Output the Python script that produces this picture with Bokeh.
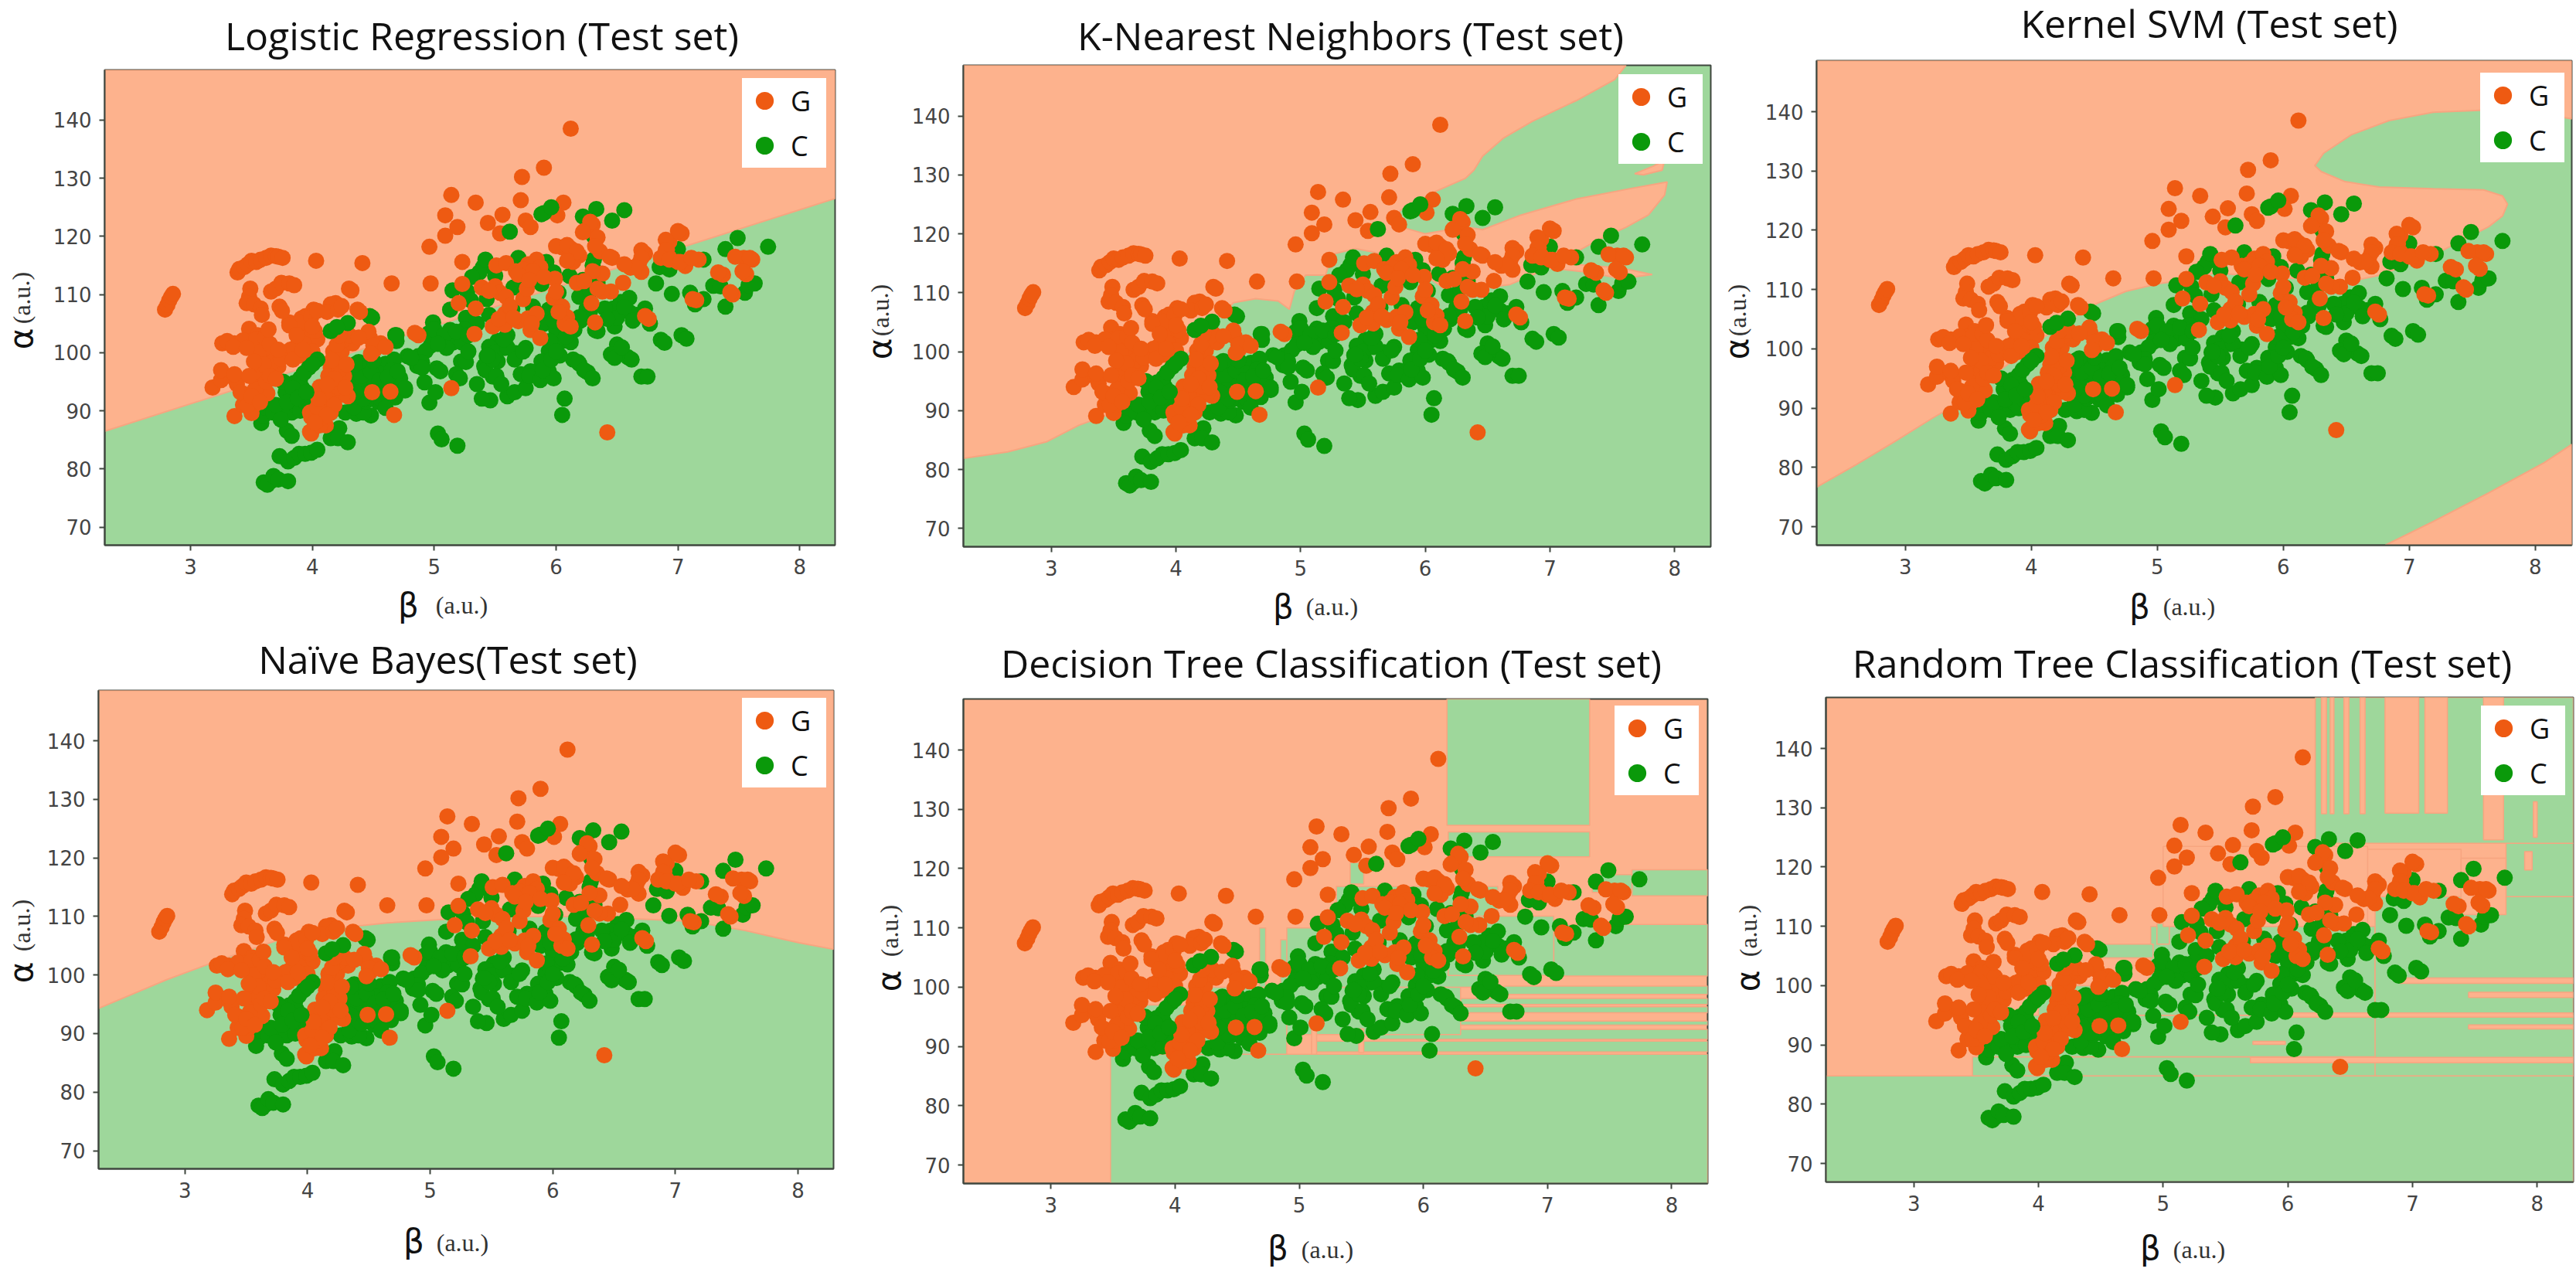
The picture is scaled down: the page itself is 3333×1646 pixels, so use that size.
from bokeh.plotting import figure
from bokeh.models import Label, Legend, LegendItem, Range1d, FixedTicker
from bokeh.embed import file_html
from bokeh.resources import INLINE

# ---- data (beta, alpha) ----
class_g = [
(2.79,107.4),(2.81,108.2),(2.825,109),(2.84,109.6),(2.855,110.1),
(3.385,113.8),(3.40,114.4),(3.44,114.7),(3.47,115.2),(3.50,115.8),(3.54,115.6),(3.575,116),(3.62,116.3),(3.66,116.7),(3.70,116.6),(3.72,116.5),(3.755,116.3),
(4.03,115.8),(4.41,115.4),(3.66,110.5),(3.70,111),(3.745,112),(3.81,111.9),(3.85,111.6),(4.30,111),
(3.49,111),(3.48,109.6),(3.46,108.5),(3.52,108.3),(3.575,107.6),(3.585,106.5),(3.73,107.9),
(4.01,107.4),(3.91,105.9),(3.81,105.2),(3.89,104.5),(3.945,106.3),(4.19,108.5),(4.15,108.3),(4.12,107),(4.21,107.4),(4.37,107.4),(4.24,108),
(3.48,104.1),(3.55,103),(3.49,102),(3.36,101.6),(3.26,101.6),(3.30,102),(3.575,101.2),(3.43,102.1),(3.35,101),
(3.18,94),(3.27,96.3),(3.25,95.3),(3.25,97),(3.36,95.6),(3.38,94.6),(3.36,96.3),(3.36,89.1),(3.43,91),(3.50,89.6),(3.45,92.8),(3.54,93.9),(3.61,94.9),(3.56,97),(3.65,97.4),(3.61,98.8),(3.70,99.1),(3.59,100.5),(3.54,102.3),(3.61,102.6),(3.79,99.5),(3.90,99.5),(3.86,100.9),(3.97,101.6),(4.04,102.3),(3.95,103.7),(3.90,105.1),(3.81,104.7),(3.99,106.2),(4.04,107.2),(3.75,107.2),
(3.55,95.5),(3.6,96.2),(3.63,93),(3.58,99.5),(3.66,100),(3.72,97.6),(3.52,91),(3.41,93.2),(3.47,91),(3.53,93.7),(3.62,95),(3.68,98.5),(3.56,100),(3.82,100.5),(3.93,101.5),(4.0,100.2),(4.02,103.7),
(3.5,92.5),(3.57,91.5),(3.6,98),(3.65,96),(3.7,95.5),(3.74,99),(3.52,98.5),(3.48,96),(3.65,101.5),(3.72,100.5),(3.84,98.8),(3.92,100.5),(4.0,104.5),(3.87,103),(3.46,100.8),(3.64,104),
(3.99,86.1),(4.11,87.5),(3.99,88.9),(4.06,90.4),(4.15,89.7),(4.11,91.8),(4.2,93.2),(4.29,92.5),(4.2,94.6),(4.26,96),(4.15,97.4),(4.2,98.8),(4.24,100.2),(4.33,101.6),(4.26,102.3),(4.47,102.6),(4.56,101.6),(4.51,100.5),(4.49,93.2),(4.64,93.3),(4.67,89.3),(4.39,107),(4.32,110.7),(4.65,111.9),(4.97,111.9),(4.87,103),(5.14,93.9),
(3.98,86.4),(3.98,89.7),(4.06,87.5),(4.08,88.8),(4.04,90.6),(4.1,92.8),(4.25,92.8),(4.06,94.1),(4.21,94.1),(4.13,96),(4.18,91),(4.05,92),(4.22,97),(4.17,100.2),(4.2,101.3),(4.3,103),(4.46,103.6),(4.5,101.2),(4.18,95.5),
(4.12,94.5),(4.27,94),(4.16,98.7),(4.28,98),(4.12,89.3),(4.02,88),(4.22,103),(4.38,102.6),(4.6,101),(4.48,99.8),
(6.12,138.5),(5.90,131.8),(5.72,130.2),(5.14,127.1),(5.34,125.8),(5.71,126.2),(6.06,125.8),(5.09,123.6),(5.19,121.6),(5.44,122.3),(5.56,123.7),(5.54,120.5),(5.75,122.7),(5.79,121.6),(6.01,123.6),(4.96,118.2),(5.09,120.1),(5.23,115.6),(7.03,120.5),(6.93,119.1),(6.23,120.9),(6.30,122),(6.34,119.8),(6.05,118.1),(6.12,117.9),(6.19,116.7),(6.14,115.6),(6.46,116.3),(6.36,117.4),
(6.73,117),(6.68,115.3),(6.61,114.6),(6.7,113.9),(6.93,116.3),(6.91,117.7),(7.0,115.6),(7.06,114.9),(7.17,116),(7.15,109),(7.37,113.4),(7.45,110),(7.54,116.3),(7.61,116),(7.56,113.5),(6.76,105.8),(6.42,86.3),
(5.51,115),(5.59,115.4),(5.67,114),(5.77,115.2),(5.84,116),(5.87,114.7),(5.73,114.3),(5.81,114),(5.69,113.4),
(5.23,111.8),(5.2,108.5),(5.34,107.6),(5.39,111.2),(5.5,111.4),(5.54,110.3),(5.59,109.6),(5.73,109.2),(5.76,111),(5.33,103.2),(5.58,106.7),(5.48,104.5),(5.58,104.8),(5.69,105.4),(5.77,105.9),(5.84,106.7),(5.79,103.9),(5.87,102.5),(5.99,112.7),(5.98,109.4),(6.05,107.9),(6.09,106.1),(6.07,105),(6.17,112),(4.84,103.4),
(5.62,108),(5.78,112.5),(5.9,113),(5.8,105),(5.53,105.8),(6.02,107),(6.12,104.5),(6.0,110.5),(5.45,110.6),(5.65,106),
(6.0,118.3),(6.09,118.5),(6.17,117.4),(6.09,115.8),
(7.0,120.9),(6.9,119.4),(6.9,117.6),(6.86,116.3),(6.93,116),(7.02,115.6),(7.11,116.3),(6.7,117.6),(6.7,116.3),(6.65,114.7),(6.56,115.2),(6.44,116.5),(6.32,118.3),(6.28,122.5),(6.22,120.7),(7.33,113.8),(7.47,116.5),(7.59,116.3),(7.53,114),(7.43,110.4),(7.12,109.2),(6.73,106.3),(6.55,112),(6.32,105.2),(6.29,108.5),(6.45,110.5),(6.38,110.5),(6.34,111),(6.38,113.6),(6.3,114),(6.23,112.3),
]
class_c_under = [
(5.88,123.8),(5.69,116.3),(5.92,115.6),(5.40,114.7),(5.37,113.8),(5.31,113),(5.15,110.7),(5.27,110.5),(5.13,107.4),(5.26,106),(5.43,109.2),(5.5,113.2),(5.65,111.2),(5.88,111.8),(6.11,113.2),(5.81,107.9),(5.94,107.4),(5.9,105),(6.05,102),(6.15,103.9),(6.19,109.6),
(5.3,109),(5.35,105),(5.45,106.5),(5.64,107.5),(6.0,104),(6.02,110.3),(6.12,101.8),(6.2,105.5),(6.25,107.5),(6.22,112.5),(5.72,112),(5.98,113.8),(5.42,116),(5.6,103),
(6.46,122.7),(6.56,124.5),(6.33,124.7),(6.22,123.4),(6.82,111.9),(6.95,110.1),(7.1,110.3),(7.14,108.3),(7.21,109.2),(7.49,119.7),(7.39,117.8),(7.74,118.2),(7.21,116),(7.29,111.5),(7.35,111.4),(7.39,107.9),(7.55,110.3),(7.58,111.6),(7.63,111.9),(7.0,117.8),(6.85,114.7),(6.93,114.3),(6.53,108.7),(6.6,109.4),(6.47,107.6),(6.4,107.6),(6.6,107),(6.66,106.5),(6.73,107.6),(6.77,105),(6.48,104.5),(6.32,103.9),(6.28,110.7),(6.28,107.2),(6.19,106.1),(6.31,120),(6.31,116),
(6.5,106),(6.56,107.8),(6.42,105.8),(6.63,105.5),(6.34,112),(6.3,115),
(6.86,102.2),(7.03,103),(6.5,101.4),(6.45,99.7),(6.59,99.2),(6.7,95.9),(6.75,95.9),(6.26,96.6),(6.19,98.1),
(4.47,106.3),(4.68,103),(4.69,102),(4.99,105.2),(4.96,103.4),(5.13,103.9),(5.05,102.5),(5.15,101.7),(5.23,101.7),(4.97,101.2),(4.78,99.4),(4.87,99.4),(4.93,100.3),(5.22,98.5),(5.02,97.3),(4.86,97.7),(5.18,96.3),(5.52,102),(5.58,100.8),(5.52,98.5),(5.43,99.4),(5.41,97.7),(5.48,95.9),(5.67,99.9),(5.75,100.8),(5.94,100.3),(5.88,98.5),(5.79,96.8),(5.94,96.8),(5.71,96.3),(6.14,98.8),
(5.0,104),(5.08,103),(5.1,100.8),(4.9,98.3),(5.25,104),(5.03,101.5),(5.18,103.6),(5.28,103),(5.45,101),(5.5,100),(5.95,102),(6.03,99.5),(6.08,102.8),(5.98,105.5),
(6.05,89.3),(6.07,92.1),(5.03,86.1),(5.06,85.1),(5.19,84),(5.6,92.5),(5.66,93.2),(5.75,93.9),(5.78,96),(5.87,95.3),(5.98,95.6),(5.89,97),(5.96,98.8),(6.0,100.2),(5.46,91.8),(5.39,92.1),(5.35,94.6),(5.42,97),(5.51,96),(5.55,94.6),(5.48,98.8),(5.44,99.5),(5.6,100.9),(5.66,98.8),(5.73,100.2),(5.57,102.3),(6.18,98.4),(6.23,97),(6.3,95.6),(6.48,99.1),(6.54,100.9),(6.62,98.8),(6.89,101.7),(7.07,102.4),(6.34,103.7),
(5.21,95.6),(5.26,98.4),(5.28,100.2),(4.96,91.4),(5.01,93.2),(4.92,94.9),(4.9,97.4),(4.81,99.1),(5.05,96.8),(4.76,93.5),
(4.69,103),(4.49,106),
(3.6,77.7),(3.66,77.9),(3.63,77.3),(3.68,78.8),(3.72,78.2),(3.8,77.9),(3.73,82.2),(3.8,81.3),(3.85,81.9),(3.89,82.6),(3.94,82.6),(3.99,82.8),(4.04,83.3),
(3.79,86.6),(3.83,85.7),(3.58,87.9),(3.6,89.2),(3.61,90.6),(3.68,89.7),(3.75,90.1),(3.81,91.5),(3.78,93.2),(3.87,92.8),(3.91,94.1),(3.955,93),(3.83,89.7),(3.86,91),
(3.7,91),(3.74,88.5),(3.9,90),(3.94,91.5),(3.85,94.8),(3.76,95),
(4.15,85.3),(4.22,87),(4.21,85.3),(4.29,84.6),(4.15,89.7),(4.27,89.7),(4.36,89.5),(4.48,89.2),(4.42,89.7),(4.34,90.6),(4.54,91.5),(4.44,91.7),(4.68,92.3),(4.75,93.9),(4.67,94.6),(4.36,94.6),(4.53,93.2),
(4.33,97),(4.42,97.4),(4.51,97.7),(4.6,98.1),(4.67,98.8),(4.33,95.6),(4.45,95.6),(4.56,96.3),(4.65,97),(4.72,95.6),(4.38,94.2),(4.51,94.9),(4.76,93.9),(4.6,94.6),(4.56,92.1),(4.42,92.1),(4.35,93.2),
(4.4,96),(4.48,96.8),(4.55,95.2),(4.62,95.8),(4.5,98.6),(4.38,98.4),(4.6,90.5),(4.7,96.8),(4.35,98),
]
class_c_over = [
(5.62,120.8),(5.9,124),(5.96,125),
(4.15,103.7),(4.29,105.1),(4.2,104.4),
(3.97,97.4),(4.04,98.8),(3.9,95.6),(3.84,93.9),(3.79,91.5),(3.88,92.2),(3.95,93.2),(3.93,96.5),(4.0,98),
]
ticks_beta = [3, 4, 5, 6, 7, 8]
ticks_alpha = [70, 80, 90, 100, 110, 120, 130, 140]
beta_range = (2.295, 8.29)
alpha_range = (66.9, 148.6)

# decision regions: polygons (beta, alpha) of class G
logreg_regions = [[(2.295,86.5),(8.29,126.5),(8.29,148.6),(2.295,148.6)]]
knn_regions = [
 [(2.295,81.9),(2.65,83),(2.96,84.7),(3.22,87.5),(3.44,89.2),(3.62,91.3),(3.9,95),(4.1,100),(4.29,104.5),(4.46,108.3),(4.64,109),(4.82,108.6),(4.91,107.2),(4.95,110.3),(5.04,113),(5.2,113),(5.25,116.5),(5.44,117.5),(5.8,116),(6.2,110),(6.68,111.4),(6.99,114.2),(7.3,113.5),(7.57,112.4),(7.82,113.1),(7.57,114.2),(7.21,114.8),(7.21,116.9),(7.39,119),(7.61,121.1),(7.79,123.2),(7.92,126.6),(7.94,128.8),(7.65,127.7),(7.21,125.9),(6.77,123.2),(6.46,120.7),(6.32,121.2),(6.0,120),(5.75,121.5),(5.8,124),(6.06,127),(6.32,129.4),(6.39,130.8),(6.46,133.2),(6.63,136.3),(6.86,139.1),(7.21,142.6),(7.52,146.2),(7.61,148.6),(2.295,148.6)],
 [(7.68,130.2),(7.83,131.5),(7.92,132.5),(7.9,130.8),(7.75,130)],
]
svm_regions = [
 [(2.295,76.7),(2.61,80.5),(2.91,84.3),(3.22,88.4),(3.44,91.1),(3.7,95.6),(4.1,102),(4.48,107.3),(4.75,109.7),(5.01,111),(5.23,111.7),(5.45,112.8),(6.0,112),(6.54,111.4),(6.76,112.4),(7.19,115.8),(7.41,118.2),(7.63,120.6),(7.74,122.4),(7.78,124.4),(7.74,125.8),(7.59,126.8),(7.19,127),(6.76,127.3),(6.49,128.2),(6.3,129.9),(6.25,130.9),(6.32,133),(6.54,136.1),(6.84,138.5),(7.19,139.9),(7.63,140.3),(7.98,139.9),(8.29,138.8),(8.29,148.6),(2.295,148.6)],
 [(6.81,66.9),(7.19,70.9),(7.63,75.7),(8.07,80.8),(8.29,83.9),(8.29,66.9)],
]
nb_regions = [[(2.295,94.3),(2.85,99.2),(3.3,102.7),(3.75,105.9),(4.2,107.9),(4.65,108.9),(5.1,109.5),(5.77,110),(6.22,110),(6.67,109.6),(7.12,109.2),(7.57,107.6),(8.01,105.5),(8.29,104.4),(8.29,148.6),(2.295,148.6)]]

# tree-like regions: (beta0, beta1, alpha0, alpha1)
dt_green = [
 (3.48,8.29,66.9,88.7),(6.19,7.34,127.3,148.6),(6.2,7.34,122,126.2),(7.68,8.29,115.4,119.8),(7.36,7.68,116,119),
 (7.05,8.29,101.9,110.6),(6.65,8.29,98.8,100.2),(6.3,8.29,97.1,98.1),(5.9,8.29,95.7,96.7),(5.81,8.29,93.6,94.3),(5.59,8.29,91.2,92.9),(5.1,8.29,89.1,90.9),
 (3.6,4.15,88.7,97),(4.1,4.9,88.7,100),(4.68,4.73,100,110),(4.85,4.92,100,108),(4.9,6.3,92,110),(5.3,6.6,100,117),(6.2,7.05,102,112),(5.41,5.52,117.4,121),
]
dt_orange = [(5.1,5.14,88.7,95),(5.48,5.52,89,93)]
rf_green = [
 (2.295,8.29,66.9,84.8),(3.47,8.29,84.8,88),(3.6,8.29,88,95),(4.0,4.9,95,100),(4.9,6.7,95,110),(6.7,8.29,84.8,115),(7.75,8.29,115,124),
 (6.22,8.29,124,148.6),(4.52,4.92,104.7,107),(4.95,5.05,107,110.5),
]
rf_orange = [
 (6.27,6.31,129,148.6),(6.34,6.37,129,148.6),(6.45,6.49,129,148.6),(6.58,6.62,129,148.6),
 (6.78,7.05,129.1,148.6),(7.1,7.28,129.1,148.6),(7.57,7.73,124.6,148.6),(7.97,8.0,125,131),(7.9,7.96,119.5,122.6),
 (6.64,7.39,115,123),(7.39,7.75,112,121.5),(5.0,6.64,110,123.5),
 (6.9,8.29,100.4,101.3),(7.45,8.29,98,98.9),(5.95,8.29,94.7,95.4),(7.45,8.29,92.7,93.4),(5.7,8.29,87,87.9),(5.72,5.98,90.1,90.6),
]

ORANGE_BG, GREEN_BG = "#FDB28D", "#9ED79B"
EDGE = "#F7A580"
ORANGE_PT, GREEN_PT = "#EE5A12", "#0A990A"
AXIS = "#3F473F"
AXIS_H = 46      # estimated height of the x axis panel

def lab(text, x, y, size, font, color="#111111", angle=0):
    return Label(x=x, y=y, x_units="screen", y_units="screen", text=text, text_font=font,
                 text_font_size=f"{size}px", text_color=color, text_align="center",
                 text_baseline="middle", angle=angle)

def panel(x0, y0, x1, y1, L, R, T, B, title, tx, ty, bx, ux, xy, ay, uy, ax, lx, ly,
          polys=None, green=None, orange=None, base=GREEN_BG):
    p = figure(width=x1-x0, height=y1-y0, output_backend="svg", toolbar_location=None, title=None,
               x_range=Range1d(*beta_range), y_range=Range1d(*alpha_range),
               min_border_left=L-x0, min_border_right=x1-R, min_border_top=T-y0, min_border_bottom=y1-B,
               background_fill_color=base, border_fill_color=None,
               outline_line_color=AXIS, outline_line_width=2)
    p.grid.visible = False
    for a, t in ((p.xaxis[0], ticks_beta), (p.yaxis[0], ticks_alpha)):
        a.ticker = FixedTicker(ticks=t)
        a.minor_tick_line_color = None
        a.major_tick_out = 7; a.major_tick_in = 0
        a.major_tick_line_color = AXIS; a.major_tick_line_width = 2
        a.axis_line_color = AXIS; a.axis_line_width = 2
        a.major_label_text_font = "DejaVu Sans"
        a.major_label_text_font_size = "26px"
        a.major_label_text_color = "#444444"
        a.major_label_standoff = 10
    if polys:
        p.patches([[q[0] for q in s] for s in polys], [[q[1] for q in s] for s in polys],
                  fill_color=ORANGE_BG, line_color=EDGE, line_width=2)
    if green:
        p.quad(left=[q[0] for q in green], right=[q[1] for q in green],
               bottom=[q[2] for q in green], top=[q[3] for q in green],
               fill_color=GREEN_BG, line_color=EDGE, line_width=1.5)
    if orange:
        p.quad(left=[q[0] for q in orange], right=[q[1] for q in orange],
               bottom=[q[2] for q in orange], top=[q[3] for q in orange],
               fill_color=ORANGE_BG, line_color=EDGE, line_width=1.5)
    rc = p.scatter([q[0] for q in class_c_under], [q[1] for q in class_c_under], size=21,
                   fill_color=GREEN_PT, line_color=None)
    rg = p.scatter([q[0] for q in class_g], [q[1] for q in class_g], size=21,
                   fill_color=ORANGE_PT, line_color=None)
    p.scatter([q[0] for q in class_c_over], [q[1] for q in class_c_over], size=21,
              fill_color=GREEN_PT, line_color=None)
    leg = Legend(items=[LegendItem(label="G", renderers=[rg]), LegendItem(label="C", renderers=[rc])],
                 location=(lx-L-3, B-(ly+116)), orientation="vertical", margin=0, padding=0,
                 spacing=0, glyph_width=58, glyph_height=58, label_standoff=5, label_width=46,
                 label_text_font="Open Sans", label_text_font_size="36px", label_text_color="#111111",
                 background_fill_color="white", background_fill_alpha=1, border_line_color=None)
    p.add_layout(leg, "center")

    # title in the panel above the frame
    p.add_layout(lab(title, tx-L, T-ty, 50, "Open Sans"), "above")
    # stacked axis captions: below the frame on the top row, above it (reaching down) on the bottom row
    caps = [("\u03b2", bx, xy, 42, "DejaVu Sans", "#111111", 0, 50, 0),
            ("(a.u.)", ux, xy, 32, "Liberation Serif", "#333333", 0, 37, 0),
            ("\u03b1", ax, ay, 42, "DejaVu Sans", "#111111", 1.5708, 28, 10),
            ("(a.u.)", ax, uy, 32, "Liberation Serif", "#333333", 1.5708, 66, 21)]
    if y0 == 0:
        cur = B + AXIS_H
        for t, x, y, s, f, c, ang, h, dy in caps:
            cur += h
            p.add_layout(lab(t, x-L, cur-y-dy, s, f, c, ang), "below")
    else:
        cur = T - 60   # below the title panel
        for t, x, y, s, f, c, ang, h, dy in caps:
            p.add_layout(lab(t, x-L, cur-y, s, f, c, ang), "above")
            cur -= h
    return p

TOP_Y1 = 960; BOT_Y0 = 640
panels = [
 panel(0,0,1083,TOP_Y1,135,1080,90,705,"Logistic Regression (Test set)",623,45,528,597,790,436,370,27,963,101,polys=logreg_regions),
 panel(1100,0,2216,TOP_Y1,1246,2213,84,707,"K-Nearest Neighbors (Test set)",1747,45,1660,1723,792,449,386,1138,2097,96,polys=knn_regions),
 panel(2215,0,3330,TOP_Y1,2350,3327,78,705,"Kernel SVM (Test set)",2858,29,2768,2832,792,449,386,2247,3212,94,polys=svm_regions),
 panel(0,BOT_Y0,1081,1645,127,1078,893,1512,"Na\u00efve Bayes(Test set)",579,852,535,598,1614,1264,1203,27,963,903,polys=nb_regions),
 panel(1100,BOT_Y0,2212,1645,1246,2209,904,1531,"Decision Tree Classification (Test set)",1722,857,1653,1717,1623,1275,1210,1150,2092,913,
       green=dt_green, orange=dt_orange, base=ORANGE_BG),
 panel(2215,BOT_Y0,3332,1645,2362,3329,902,1529,"Random Tree Classification (Test set)",2823,857,2782,2845,1623,1275,1210,2261,3213,913,
       green=rf_green, orange=rf_orange, base=ORANGE_BG),
]
cells = [(0,0,TOP_Y1),(1100,0,TOP_Y1),(2215,0,TOP_Y1),(0,BOT_Y0,1645),(1100,BOT_Y0,1645),(2215,BOT_Y0,1645)]
flow = 0
for p, (cx, cy, cy1) in zip(panels, cells):
    p.margin = (cy-flow, 0, 0, cx)
    flow = cy1

open("out.html", "w").write(file_html(panels, INLINE))
